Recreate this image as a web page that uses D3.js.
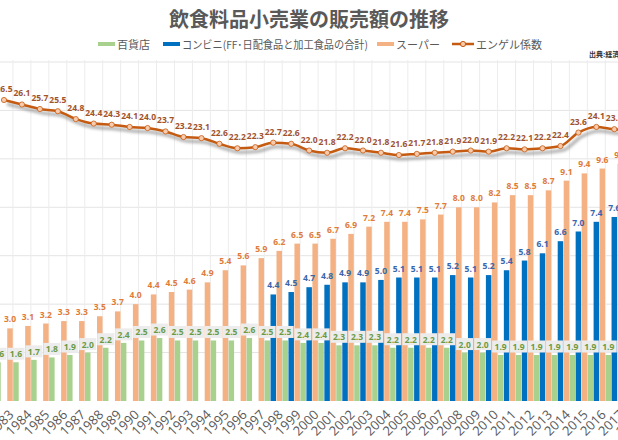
<!DOCTYPE html>
<html><head><meta charset="utf-8">
<script src="https://cdn.jsdelivr.net/npm/d3@7/dist/d3.min.js"></script>
<style>body{margin:0;background:#fff;font-family:"Noto Sans CJK JP","Noto Sans",sans-serif}</style>
</head><body><svg id="c" width="618" height="440"></svg>
<script>
const years = d3.range(1983, 2019).map(String);
const dept = [1.6,1.6,1.7,1.8,1.9,2.0,2.2,2.4,2.5,2.6,2.5,2.5,2.5,2.5,2.6,2.5,2.5,2.4,2.4,2.3,2.3,2.3,2.2,2.2,2.2,2.2,2.0,2.0,1.9,1.9,1.9,1.9,1.9,1.9,1.9,1.9];
const conv = [null,null,null,null,null,null,null,null,null,null,null,null,null,null,null,4.4,4.5,4.7,4.8,4.9,4.9,5.0,5.1,5.1,5.1,5.2,5.1,5.2,5.4,5.8,6.1,6.6,7.0,7.4,7.6,7.8];
const sup = [3.0,3.1,3.2,3.3,3.3,3.5,3.7,4.0,4.4,4.5,4.6,4.9,5.4,5.6,5.9,6.2,6.5,6.5,6.7,6.9,7.2,7.4,7.4,7.5,7.7,8.0,8.0,8.2,8.5,8.5,8.7,9.1,9.4,9.6,9.8,10.0];
const engel = [26.5,26.1,25.7,25.5,24.8,24.4,24.3,24.1,24.0,23.7,23.2,23.1,22.6,22.2,22.3,22.7,22.6,22.0,21.8,22.2,22.0,21.8,21.6,21.7,21.8,21.9,22.0,21.9,22.2,22.1,22.2,22.4,23.6,24.1,23.9,23.8];
const seriesNames = ["百貨店","コンビニ(FF･日配食品と加工食品の合計)","スーパー","エンゲル係数"];
const colors = {dept:"#a9d18e", conv:"#0070c0", sup:"#f4b183", line:"#c55a11"};

const svg = d3.select("#c");
const x = d3.scalePoint().domain(years).range([4, 4+35*17.95]);
const y = d3.scaleLinear().domain([0,14]).range([401, 62]);
const y2 = d3.scaleLinear().domain([21.6,26.5]).range([155, 100]);

svg.append("g").selectAll("line").data(d3.range(2,15,2)).join("line")
  .attr("x1",0).attr("x2",618).attr("y1",d=>y(d)).attr("y2",d=>y(d))
  .attr("stroke","#e4e4e4");
svg.append("g").selectAll("line").data(years).join("line")
  .attr("x1",d=>x(d)-9).attr("x2",d=>x(d)-9).attr("y1",60).attr("y2",401)
  .attr("stroke","#ececec");

const bw = 5.5;
function bars(data, off, col){
  svg.append("g").selectAll("rect").data(data.map((v,i)=>({v,yr:years[i]})).filter(d=>d.v!=null)).join("rect")
    .attr("x",d=>x(d.yr)+off-bw/2).attr("width",bw)
    .attr("y",d=>y(d.v)).attr("height",d=>401-y(d.v)).attr("fill",col);
}
bars(dept,-6,colors.dept); bars(conv,0,colors.conv); bars(sup,6,colors.sup);

const lf = "font-size:8.5px;font-weight:bold;font-family:'Open Sans',sans-serif";
svg.append("g").selectAll("text").data(sup.map((v,i)=>({v,yr:years[i]}))).join("text")
  .attr("x",d=>x(d.yr)+6).attr("y",d=>y(d.v)-6).attr("text-anchor","middle")
  .attr("style",lf).attr("fill","#e07b39").text(d=>d.v.toFixed(1));
svg.append("g").selectAll("text").data(conv.map((v,i)=>({v,yr:years[i]})).filter(d=>d.v!=null)).join("text")
  .attr("x",d=>x(d.yr)).attr("y",d=>y(d.v)-6).attr("text-anchor","middle")
  .attr("style",lf).attr("fill","#3a64ad").text(d=>d.v.toFixed(1));
const gl = svg.append("g").selectAll("g").data(dept.map((v,i)=>({v,yr:years[i]}))).join("g")
  .attr("transform",d=>`translate(${x(d.yr)-6},${y(d.v)-8})`);
gl.append("rect").attr("x",-8.5).attr("y",-6.5).attr("width",17).attr("height",12).attr("fill","#ececec");
gl.append("text").attr("text-anchor","middle").attr("y",3).attr("style",lf).attr("fill","#6a9a45").text(d=>d.v.toFixed(1));

const pts = engel.map((v,i)=>({v,yr:years[i]}));
const line = d3.line().x(d=>x(d.yr)).y(d=>y2(d.v)).curve(d3.curveMonotoneX);
const defs = svg.append("defs");
defs.append("filter").attr("id","bl").append("feGaussianBlur").attr("stdDeviation",1.5);
svg.append("path").datum(pts).attr("d",line).attr("fill","none").attr("stroke","#888").attr("stroke-width",3)
  .attr("transform","translate(3,4)").attr("filter","url(#bl)").attr("opacity",0.7);
svg.append("path").datum(pts).attr("d",line).attr("fill","none").attr("stroke",colors.line).attr("stroke-width",2.5);
svg.append("g").selectAll("circle").data(pts).join("circle")
  .attr("cx",d=>x(d.yr)).attr("cy",d=>y2(d.v)).attr("r",2.6)
  .attr("fill","#f8cbad").attr("stroke",colors.line).attr("stroke-width",0.8);
svg.append("g").selectAll("text").data(pts).join("text")
  .attr("x",d=>x(d.yr)).attr("y",d=>y2(d.v)-8).attr("text-anchor","middle")
  .attr("style",lf).attr("fill","#a0522d").text(d=>d.v.toFixed(1));

svg.append("g").selectAll("text").data(years).join("text")
  .attr("transform",d=>`translate(${x(d)+4},${409}) rotate(-45)`)
  .attr("text-anchor","end").attr("dy","0.7em")
  .attr("style","font-size:13px;font-family:'Open Sans',sans-serif").attr("fill","#595959").text(d=>d);

svg.append("text").attr("x",309).attr("y",27).attr("text-anchor","middle")
  .attr("style","font-size:20px;font-weight:bold").attr("fill","#595959").text("飲食料品小売業の販売額の推移");
const lg = [{n:seriesNames[0],c:colors.dept,x:98,w:0},{n:seriesNames[1],c:colors.conv,x:163,w:186},{n:seriesNames[2],c:colors.sup,x:377,w:0},{n:seriesNames[3],c:colors.line,x:452,l:true,w:0}];
lg.forEach(d=>{
  if(d.l){
    svg.append("line").attr("x1",d.x).attr("x2",d.x+22).attr("y1",44).attr("y2",44).attr("stroke",d.c).attr("stroke-width",2.5);
    svg.append("circle").attr("cx",d.x+11).attr("cy",44).attr("r",2.6).attr("fill","#f8cbad").attr("stroke",d.c);
  } else svg.append("rect").attr("x",d.x).attr("y",42).attr("width",17).attr("height",4).attr("fill",d.c);
  const t = svg.append("text").attr("x",d.x+(d.l?24:19)).attr("y",48.5).attr("style","font-size:11px").attr("fill","#595959").text(d.n);
  if(d.w) t.attr("textLength",d.w).attr("lengthAdjust","spacingAndGlyphs");
});
svg.append("text").attr("x",589).attr("y",57).attr("style","font-size:7px;font-weight:bold").attr("fill","#333").text("出典:経済産業省");
</script></body></html>
